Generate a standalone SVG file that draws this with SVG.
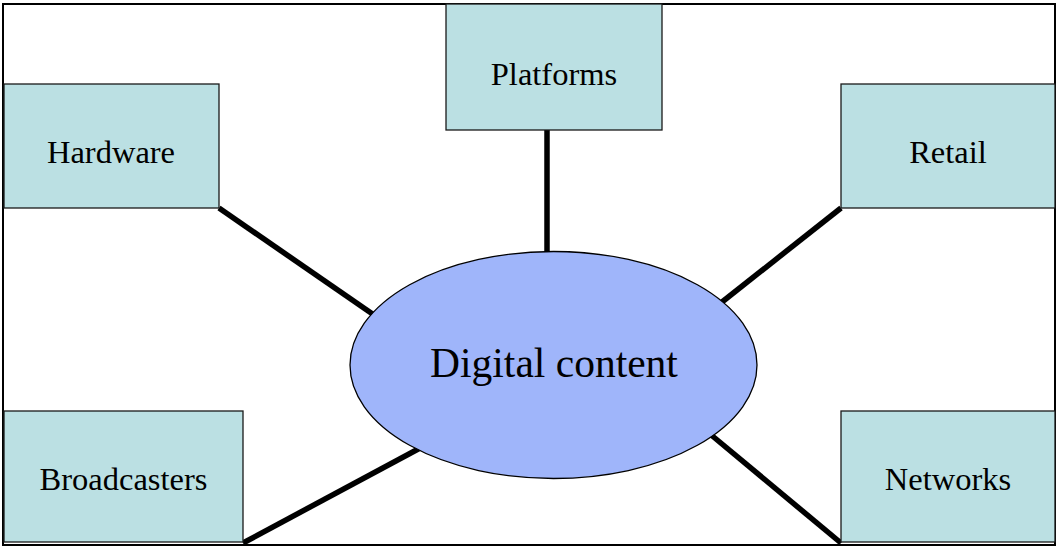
<svg xmlns="http://www.w3.org/2000/svg" width="1056" height="547" viewBox="0 0 1056 547">
<style>
.box{fill:#BBE0E3;stroke:#1a1a1a;stroke-width:1.3}
.lbl{font-family:"Liberation Serif","Times New Roman",serif;font-size:32.5px;fill:#000;text-anchor:middle}
.conn line{stroke:#000;stroke-width:5.5;stroke-linecap:butt}
</style>
<rect x="0" y="0" width="1056" height="547" fill="#fff"/>
<rect id="frame" x="3" y="4" width="1052" height="541" fill="none" stroke="#000" stroke-width="2"/>
<g class="conn" id="connectors">
<line x1="547" y1="130" x2="547" y2="262"/>
<line x1="219" y1="208" x2="374" y2="315"/>
<line x1="841" y1="208" x2="722" y2="302"/>
<line x1="243" y1="543" x2="422" y2="447"/>
<line x1="710" y1="434" x2="841" y2="543"/>
</g>
<g id="platforms"><rect class="box" x="446" y="4" width="216" height="126"/><text class="lbl" x="554" y="85">Platforms</text></g>
<g id="hardware"><rect class="box" x="4" y="84" width="215" height="124"/><text class="lbl" x="111" y="163">Hardware</text></g>
<g id="retail"><rect class="box" x="841" y="84" width="214" height="124"/><text class="lbl" x="948" y="163">Retail</text></g>
<g id="broadcasters"><rect class="box" x="4" y="411" width="239" height="131"/><text class="lbl" x="123.5" y="490">Broadcasters</text></g>
<g id="networks"><rect class="box" x="841" y="411" width="214" height="131"/><text class="lbl" x="948" y="490">Networks</text></g>
<g id="digital-content"><ellipse cx="553.5" cy="365" rx="203.5" ry="113.5" fill="#9FB5FA" stroke="#000" stroke-width="1.3"/><text class="lbl" x="554" y="377" style="font-size:41.5px">Digital content</text></g>
</svg>
